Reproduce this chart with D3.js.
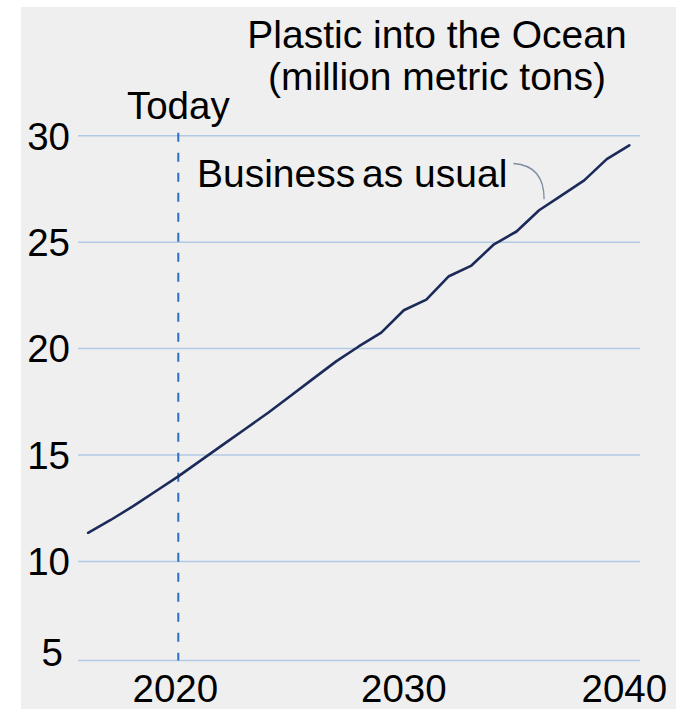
<!DOCTYPE html>
<html>
<head>
<meta charset="utf-8">
<script src="https://cdn.jsdelivr.net/npm/d3@7"></script>
<style>
  html, body { margin: 0; padding: 0; background: #ffffff; }
  svg { display: block; }
  text { font-family: "Liberation Sans", Arial, sans-serif; fill: #000; }
</style>
</head>
<body>
<div id="chart"></div>
<script>
// Plastic flowing into the ocean, business-as-usual projection (million metric tons)
const years = [2016, 2017, 2018, 2019, 2020, 2021, 2022, 2023, 2024, 2025, 2026, 2027, 2028,
               2029, 2030, 2031, 2032, 2033, 2034, 2035, 2036, 2037, 2038, 2039, 2040];
const businessAsUsual = [11.35, 11.95, 12.6, 13.3, 14.0, 14.75, 15.5, 16.25, 17.0, 17.8, 18.6, 19.4, 20.1,
                         20.75, 21.8, 22.3, 23.4, 23.9, 24.9, 25.5, 26.5, 27.2, 27.9, 28.9, 29.55];
const yTicks = [5, 10, 15, 20, 25, 30];
const xTicks = [2020, 2030, 2040];
const todayYear = 2020;

const width = 676, height = 709;

const svg = d3.select("#chart").append("svg")
  .attr("width", width)
  .attr("height", height);

// grey panel
svg.append("rect")
  .attr("x", 21).attr("y", 7)
  .attr("width", width - 21).attr("height", height - 7)
  .attr("fill", "#efefef");

const x = d3.scaleLinear().domain([2020, 2040]).range([178.3, 629.3]);
// the bottom baseline sits a little closer to the 10 line than the regular spacing
const y = d3.scaleLinear().domain([5, 10, 30]).range([660.5, 561.5, 135.7]);

const gridLeft = 78, gridRight = 640;

// horizontal gridlines
svg.append("g").selectAll("line")
  .data(yTicks)
  .join("line")
  .attr("x1", gridLeft).attr("x2", gridRight)
  .attr("y1", d => y(d)).attr("y2", d => y(d))
  .attr("stroke", "#b3cae6")
  .attr("stroke-width", 1.5);

// y tick labels
svg.append("g").selectAll("text")
  .data(yTicks)
  .join("text")
  .attr("x", d => d === yTicks[0] ? 63 : 70)
  .attr("y", d => y(d) + (d === yTicks[0] ? -8 : 0))
  .attr("dy", "0.36em")
  .attr("text-anchor", "end")
  .style("font-size", "38.5px")
  .text(d => d);

// x tick labels
svg.append("g").selectAll("text")
  .data(xTicks)
  .join("text")
  .attr("x", d => x(d) - (d === 2040 ? 5 : (d === 2020 ? 3 : 0)))
  .attr("y", 702)
  .attr("text-anchor", "middle")
  .style("font-size", "38.5px")
  .text(d => d);

// "Today" marker
svg.append("line")
  .attr("x1", x(todayYear)).attr("x2", x(todayYear))
  .attr("y1", y(30) - 3).attr("y2", y(5))
  .attr("stroke", "#2d6fc2")
  .attr("stroke-width", 2)
  .attr("stroke-dasharray", "9,11");

svg.append("text")
  .attr("x", x(todayYear))
  .attr("y", 119)
  .attr("text-anchor", "middle")
  .style("font-size", "38.5px")
  .text("Today");

// title
const title = svg.append("text")
  .attr("text-anchor", "middle")
  .style("font-size", "39px");
title.append("tspan").attr("x", 437).attr("y", 48).text("Plastic into the Ocean");
title.append("tspan").attr("x", 437).attr("y", 90).text("(million metric tons)");

// projection line
const line = d3.line()
  .x((d, i) => x(years[i]))
  .y(d => y(d));

svg.append("path")
  .datum(businessAsUsual)
  .attr("d", line)
  .attr("fill", "none")
  .attr("stroke", "#1c2a5a")
  .attr("stroke-width", 2.6)
  .attr("stroke-linejoin", "round")
  .attr("stroke-linecap", "round");

// series label with leader
const seriesLabel = svg.append("text")
  .attr("x", 197)
  .attr("y", 187)
  .style("font-size", "39px");
seriesLabel.append("tspan").text("Business");
seriesLabel.append("tspan").attr("dx", -4).text(" as usual");

const lx0 = 513.5, ly0 = 163.5;
const lx1 = x(2036) + 5, ly1 = y(26.5) - 11;
svg.append("path")
  .attr("d", `M${lx0},${ly0} Q${lx1},${ly0 + 2} ${lx1},${ly1}`)
  .attr("fill", "none")
  .attr("stroke", "#7f8ca6")
  .attr("stroke-width", 1.3);
</script>
</body>
</html>
